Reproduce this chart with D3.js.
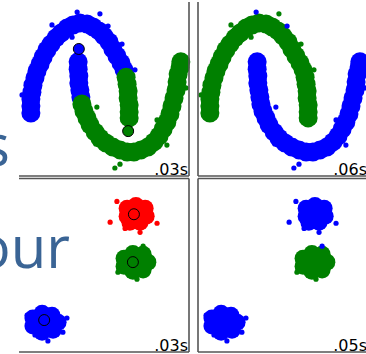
<!DOCTYPE html>
<html>
<head>
<meta charset="utf-8">
<script src="https://cdn.jsdelivr.net/npm/d3@7"></script>
<style>
body { margin: 0; background: #fff; }
</style>
</head>
<body>
<div id="fig"></div>
<script>
var fw = 366;
var fh = 354;

// labels: 0 blue, 1 green, 2 red
var palette = ["#0000ff", "#008000", "#ff0000"];

// moons: dense parts of the bands (read along the bands) then loose dots
var moonCoreX = [-2.15, -2.15, -2.15, -2.12, -2.09, -2.03, -1.97, -1.88, -1.79, -1.68, -1.56, -1.41, -1.26, -1.09, -0.91, -0.71,
	-0.50, -0.32, -0.15, 0.00, 0.15, 0.26, 0.38, 0.50, 0.59, 0.65, 0.68, 0.71, 0.71, 0.74, 0.74, 0.74,
	-0.76, -0.76, -0.74, -0.74, -0.71, -0.68, -0.65, -0.59, -0.50, -0.41, -0.26, -0.12, 0.06, 0.26, 0.47, 0.68,
	0.88, 1.09, 1.29, 1.47, 1.62, 1.74, 1.85, 1.94, 2.00, 2.06, 2.12, 2.15, 2.18, 2.24, 2.26];
var moonCoreY = [-0.69, -0.49, -0.29, -0.09, 0.11, 0.32, 0.52, 0.72, 0.92, 1.12, 1.29, 1.47, 1.61, 1.75, 1.84, 1.90,
	1.87, 1.78, 1.67, 1.52, 1.35, 1.15, 0.95, 0.75, 0.55, 0.34, 0.14, -0.06, -0.26, -0.46, -0.66, -0.83,
	0.78, 0.57, 0.37, 0.17, -0.03, -0.23, -0.43, -0.63, -0.83, -1.03, -1.24, -1.41, -1.55, -1.67, -1.75, -1.81,
	-1.81, -1.75, -1.67, -1.52, -1.35, -1.15, -0.95, -0.72, -0.49, -0.26, -0.03, 0.20, 0.43, 0.63, 0.78];
var moonCoreLabelA = [0,0,0,0,0,0,0,0,0,0,0,0,0,0,0,0, 0,0,0,0,0,0,0,0,0,1,1,1,1,1,1,1,
	0,0,0,0,0,0,1,1,1,1,1,1,1,1,1,1, 1,1,1,1,1,1,1,1,1,1,1,1,1,1,1];
var moonCoreLabelB = [1,1,1,1,1,1,1,1,1,1,1,1,1,1,1,1, 1,1,1,1,1,1,1,1,1,1,1,1,1,1,1,1,
	0,0,0,0,0,0,0,0,0,0,0,0,0,0,0,0, 0,0,0,0,0,0,0,0,0,0,0,0,0,0,0];

var moonDotX = [-0.79, 0.12, -1.53, -2.26, -2.18, -0.94, 0.91, 0.56, -2.41, 0.53, -0.12,
	-0.85, -0.91, -0.21, 0.32, 0.47, 1.85, 2.29, 1.56, -0.24, 2.41];
var moonDotY = [2.21, 1.81, 1.84, -0.52, -0.86, 1.49, 0.55, -0.89, -0.17, 1.29, 2.16,
	0.95, 0.83, -0.52, -2.27, -2.16, -1.61, 0.83, -0.89, -1.58, 0.03];
var moonDotLabelA = [0,0,0,0,0,0,0,1,0,0,0, 0,0,1,1,1,1,1,1,1,1];
var moonDotLabelB = [0,0,1,1,1,1,1,1,1,1,1, 0,0,0,0,0,0,0,0,0,0];

var moonCentX = [-0.74, 0.71];
var moonCentY = [1.15, -1.21];
var moonCentLabel = [0, 1];

// blobs
var blobCoreX = [0.68, 0.94, 1.21, 0.68, 0.94, 1.24, 0.76, 1.06,
	0.59, 0.85, 1.15, 1.29, 0.59, 0.88, 1.15, 0.85,
	-2.09, -1.82, -1.53, -1.35, -2.09, -1.76, -1.50, -1.82];
var blobCoreY = [1.64, 1.72, 1.64, 1.41, 1.47, 1.41, 1.24, 1.24,
	0.20, 0.34, 0.32, 0.09, -0.03, 0.06, -0.14, -0.17,
	-1.52, -1.38, -1.44, -1.64, -1.75, -1.64, -1.87, -1.93];
var blobCoreLabelA = [2,2,2,2,2,2,2,2, 1,1,1,1,1,1,1,1, 0,0,0,0,0,0,0,0];
var blobCoreLabelB = [0,0,0,0,0,0,0,0, 1,1,1,1,1,1,1,1, 0,0,0,0,0,0,0,0];

var blobDotX = [0.18, 1.56, 1.06, 0.38, 0.62, 1.15, 0.41, 0.97, -1.09, -1.21, -1.65, -2.26, -2.03];
var blobDotY = [1.24, 1.21, 0.95, 1.84, 1.06, 0.55, -0.20, -0.40, -1.52, -1.93, -2.18, -1.44, -2.01];
var blobDotLabelA = [2,2,2,2,2, 1,1,1, 0,0,0,0,0];
var blobDotLabelB = [0,0,0,0,0, 0,1,1, 0,0,0,0,0];

var blobCentX = [0.88, 0.85, -1.76];
var blobCentY = [1.47, 0.09, -1.58];
var blobCentLabel = [2, 1, 0];

var times = [".03s", ".06s", ".03s", ".05s"];

var pw = 170;
var colX = [19, 198];
var rowY = [2, 178.5];
var rowH = [174, 173.5];

var dotR = 2.6;

var svg = d3.select("#fig")
	.append("svg")
	.attr("width", fw)
	.attr("height", fh);

function panel(col, row, core, coreR, dots, cent, t) {
	var x0 = colX[col], y0 = rowY[row], ph = rowH[row];
	var x = d3.scaleLinear().domain([-2.5, 2.5]).range([x0, x0 + pw]);
	var y = d3.scaleLinear().domain([-2.5, 2.5]).range([y0 + ph, y0]);
	var g = svg.append("g");

	g.selectAll("circle.core")
		.data(core)
		.enter()
		.append("circle")
		.attr("class", "core")
		.attr("cx", function(d) { return x(d.x); })
		.attr("cy", function(d) { return y(d.y); })
		.attr("r", coreR)
		.attr("fill", function(d) { return palette[d.c]; });

	g.selectAll("circle.dot")
		.data(dots)
		.enter()
		.append("circle")
		.attr("class", "dot")
		.attr("cx", function(d) { return x(d.x); })
		.attr("cy", function(d) { return y(d.y); })
		.attr("r", dotR)
		.attr("fill", function(d) { return palette[d.c]; });

	g.selectAll("circle.cent")
		.data(cent)
		.enter()
		.append("circle")
		.attr("class", "cent")
		.attr("cx", function(d) { return x(d.x); })
		.attr("cy", function(d) { return y(d.y); })
		.attr("r", 5.5)
		.attr("fill", function(d) { return palette[d.c]; })
		.attr("stroke", "#000")
		.attr("stroke-width", 1);

	// spines: the outer left and the very top are not shown
	var sp = [[x0, y0 + ph, x0 + pw, y0 + ph]];
	if (row == 1) sp.push([x0, y0, x0 + pw, y0]);
	if (col == 0) sp.push([x0 + pw, y0, x0 + pw, y0 + ph]);
	if (col == 1) sp.push([x0, y0, x0, y0 + ph]);
	g.selectAll("line")
		.data(sp)
		.enter()
		.append("line")
		.attr("x1", function(d) { return d[0]; })
		.attr("y1", function(d) { return d[1]; })
		.attr("x2", function(d) { return d[2]; })
		.attr("y2", function(d) { return d[3]; })
		.attr("stroke", "#555")
		.attr("stroke-width", 1.6);

	g.append("text")
		.attr("x", x0 + pw - 1)
		.attr("y", y0 + ph - 1.5)
		.attr("text-anchor", "end")
		.style("font-family", "DejaVu Sans")
		.style("font-size", "16px")
		.attr("fill", "#000")
		.text(t);
}

function pts(xs, ys, ls) {
	return xs.map(function(v, i) { return { x: v, y: ys[i], c: ls[i] }; });
}

panel(0, 0, pts(moonCoreX, moonCoreY, moonCoreLabelA), 9.5, pts(moonDotX, moonDotY, moonDotLabelA),
	pts(moonCentX, moonCentY, moonCentLabel), times[0]);
panel(1, 0, pts(moonCoreX, moonCoreY, moonCoreLabelB), 9.5, pts(moonDotX, moonDotY, moonDotLabelB),
	[], times[1]);
panel(0, 1, pts(blobCoreX, blobCoreY, blobCoreLabelA), 8.5, pts(blobDotX, blobDotY, blobDotLabelA),
	pts(blobCentX, blobCentY, blobCentLabel), times[2]);
panel(1, 1, pts(blobCoreX, blobCoreY, blobCoreLabelB), 8.5, pts(blobDotX, blobDotY, blobDotLabelB),
	[], times[3]);

// cut-off title words overlapping from the left
svg.append("text")
	.attr("x", 10)
	.attr("y", 166)
	.attr("text-anchor", "end")
	.style("font-family", "Open Sans")
	.style("font-size", "58px")
	.attr("fill", "#3a6495")
	.text("s");

svg.append("text")
	.attr("x", 70)
	.attr("y", 268)
	.attr("text-anchor", "end")
	.style("font-family", "Open Sans")
	.style("font-size", "58px")
	.attr("fill", "#3a6495")
	.text("our");
</script>
</body>
</html>
